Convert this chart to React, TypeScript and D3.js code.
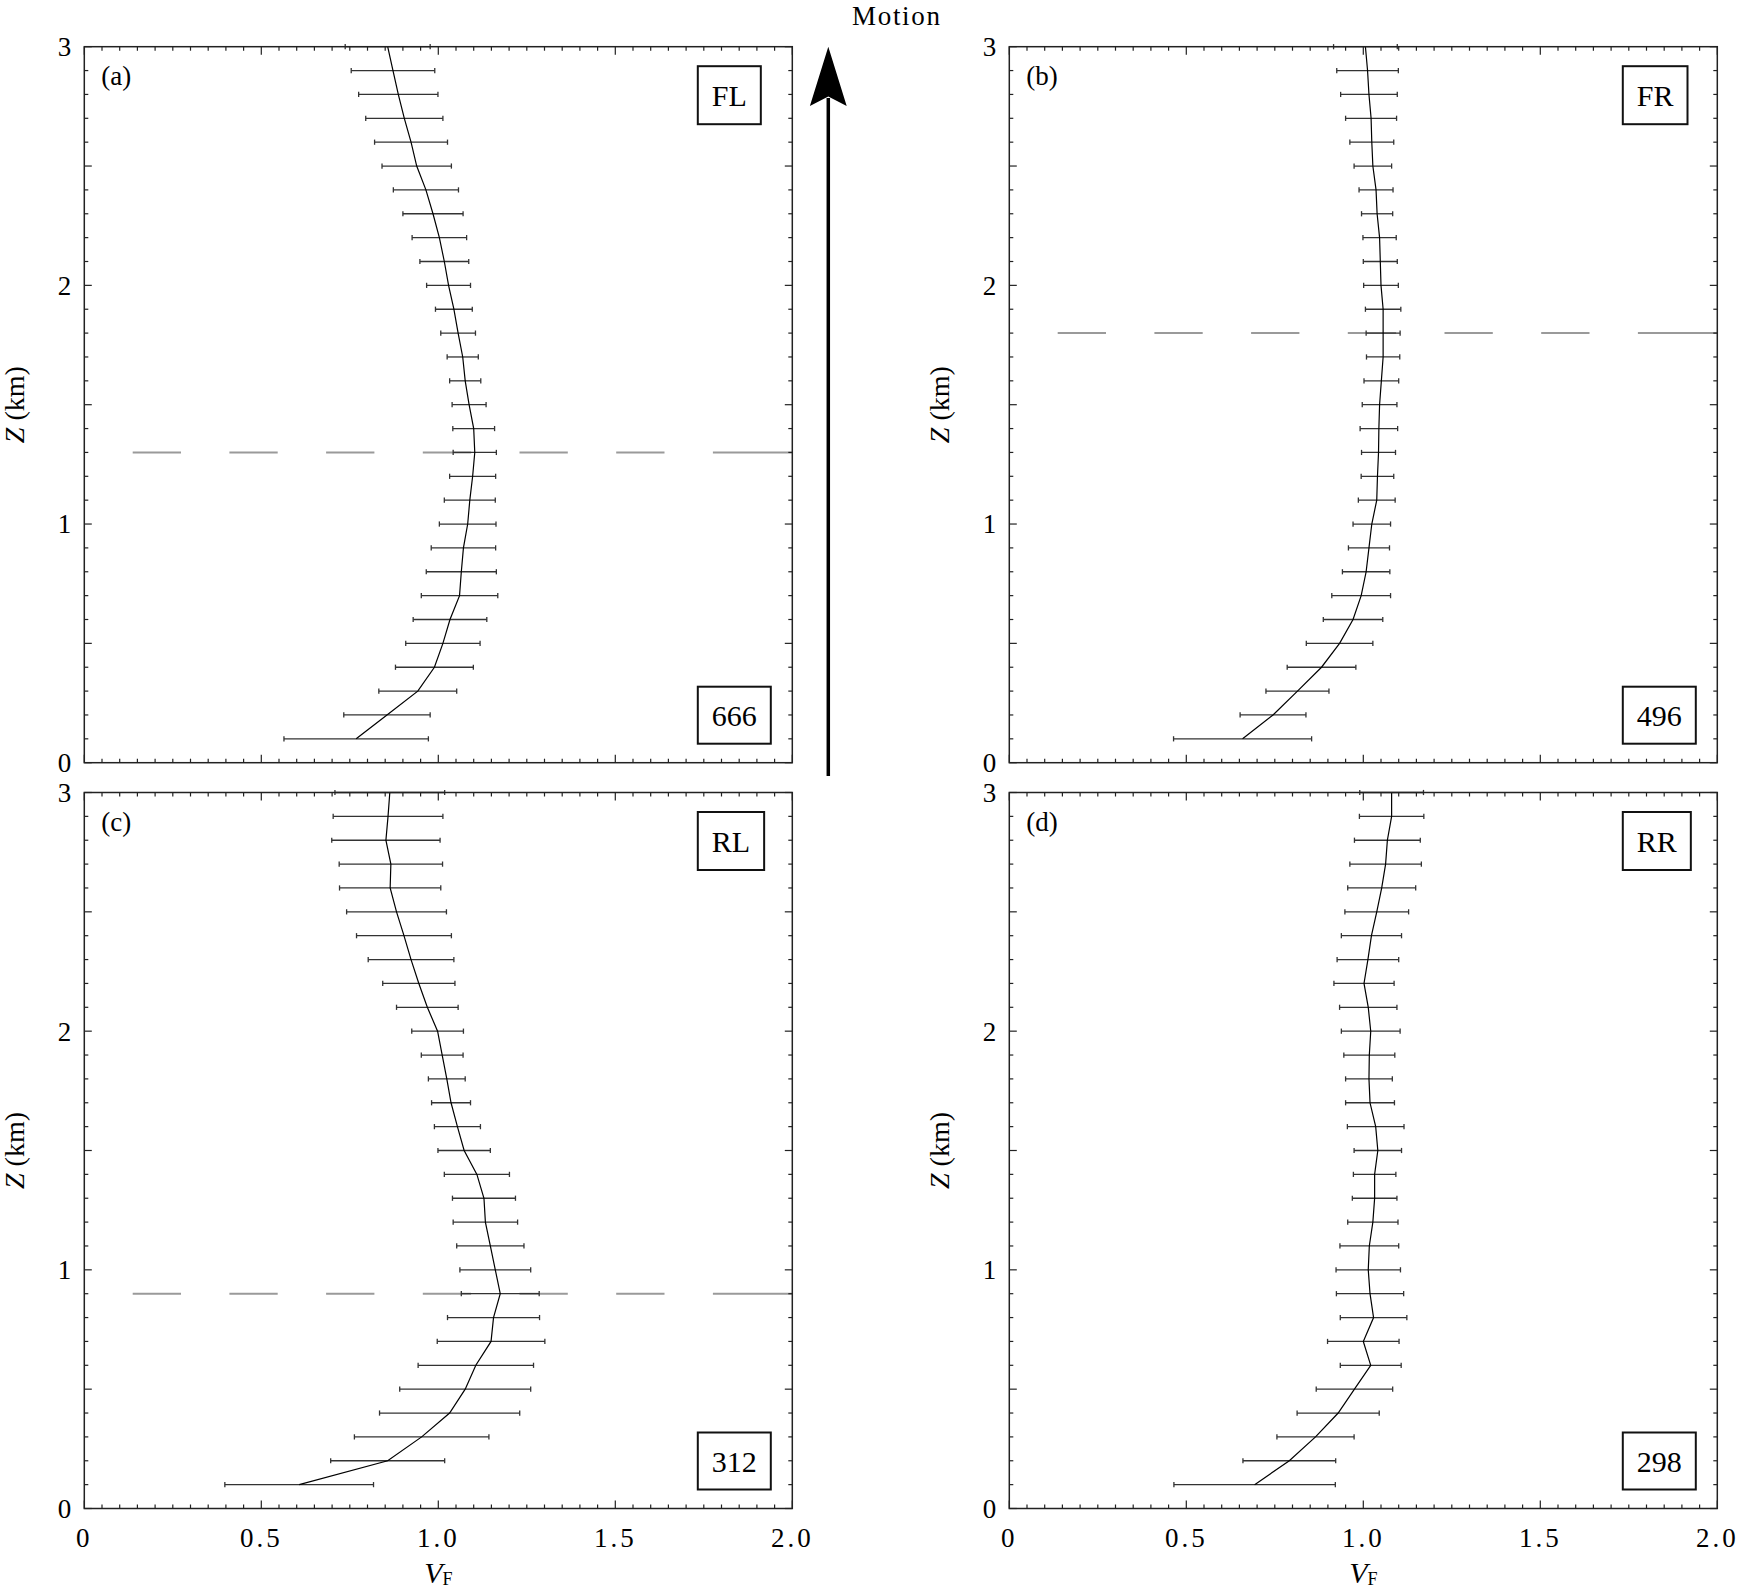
import React, { useEffect, useRef } from 'react';
import * as d3 from 'd3';

// heights of the sampled levels (km)
const zLevels = [0.1, 0.2, 0.3, 0.4, 0.5, 0.6, 0.7, 0.8, 0.9, 1.0,
    1.1, 1.2, 1.3, 1.4, 1.5, 1.6, 1.7, 1.8, 1.9, 2.0,
    2.1, 2.2, 2.3, 2.4, 2.5, 2.6, 2.7, 2.8, 2.9, 3.0];

// mean V_F and its standard deviation for each quadrant
const meanFL = [0.768, 0.855, 0.942, 0.989, 1.013, 1.033, 1.060, 1.065, 1.071, 1.083,
    1.089, 1.097, 1.103, 1.100, 1.087, 1.076, 1.069, 1.056, 1.044, 1.029,
    1.017, 1.003, 0.985, 0.965, 0.939, 0.923, 0.904, 0.887, 0.872, 0.857];
const sdFL = [0.204, 0.122, 0.110, 0.110, 0.105, 0.104, 0.108, 0.099, 0.091, 0.080,
    0.072, 0.065, 0.061, 0.059, 0.048, 0.044, 0.044, 0.049, 0.052, 0.062,
    0.069, 0.077, 0.085, 0.092, 0.098, 0.103, 0.109, 0.112, 0.118, 0.120];

const meanFR = [0.659, 0.745, 0.814, 0.882, 0.933, 0.971, 0.994, 1.008, 1.016, 1.024,
    1.038, 1.040, 1.043, 1.044, 1.046, 1.051, 1.056, 1.056, 1.056, 1.050,
    1.048, 1.046, 1.039, 1.036, 1.027, 1.024, 1.022, 1.016, 1.012, 1.006];
const sdFR = [0.195, 0.093, 0.089, 0.097, 0.094, 0.084, 0.083, 0.067, 0.058, 0.053,
    0.052, 0.046, 0.048, 0.053, 0.049, 0.049, 0.047, 0.048, 0.050, 0.049,
    0.048, 0.047, 0.044, 0.048, 0.053, 0.062, 0.072, 0.080, 0.087, 0.090];

const meanRL = [0.607, 0.857, 0.953, 1.032, 1.076, 1.106, 1.149, 1.156, 1.175, 1.161,
    1.147, 1.133, 1.129, 1.109, 1.073, 1.054, 1.036, 1.024, 1.011, 0.998,
    0.969, 0.945, 0.923, 0.903, 0.882, 0.864, 0.866, 0.852, 0.858, 0.863];
const sdRL = [0.210, 0.161, 0.190, 0.198, 0.185, 0.163, 0.152, 0.130, 0.110, 0.100,
    0.095, 0.091, 0.089, 0.092, 0.074, 0.065, 0.055, 0.052, 0.059, 0.073,
    0.087, 0.102, 0.121, 0.134, 0.141, 0.143, 0.146, 0.153, 0.155, 0.155];

const meanRR = [0.693, 0.791, 0.865, 0.929, 0.975, 1.021, 1.000, 1.029, 1.019, 1.014,
    1.017, 1.027, 1.032, 1.032, 1.041, 1.035, 1.019, 1.016, 1.017, 1.021,
    1.014, 1.002, 1.013, 1.023, 1.038, 1.052, 1.063, 1.068, 1.080, 1.080];
const sdRR = [0.228, 0.131, 0.109, 0.116, 0.108, 0.086, 0.101, 0.094, 0.095, 0.091,
    0.083, 0.071, 0.063, 0.060, 0.067, 0.080, 0.069, 0.066, 0.072, 0.083,
    0.081, 0.085, 0.087, 0.085, 0.090, 0.096, 0.101, 0.093, 0.091, 0.090];

const panelTags = ['(a)', '(b)', '(c)', '(d)'];
const quadrantNames = ['FL', 'FR', 'RL', 'RR'];
const sampleCounts = ['666', '496', '312', '298'];
const dashedHeights = [1.3, 1.8, 0.9, null];
const panelMeans = [meanFL, meanFR, meanRL, meanRR];
const panelSds = [sdFL, sdFR, sdRL, sdRR];

const xTickValues = [0, 0.5, 1.0, 1.5, 2.0];
const xTickLabels = ['0', '0.5', '1.0', '1.5', '2.0'];
const yTickValues = [0, 1, 2, 3];

const FONT = '"Liberation Serif", "Times New Roman", serif';

const App = () => {
    const svgRef = useRef(null);

    useEffect(() => {
        const svg = d3.select(svgRef.current);
        svg.selectAll('*').remove();

        const lefts = [84.3, 1009.3];
        const tops = [46.7, 792.5];
        const pw = 708;
        const ph = 716;

        //gap first, six dash/gap pairs, then the last dash runs into the frame
        const dashPattern = [0, 48.4];
        for (let k = 0; k < 6; k++) dashPattern.push(48.3, 48.4);
        dashPattern.push(1000);

        panelTags.forEach((tag, p) => {
            const left = lefts[p % 2];
            const top = tops[Math.floor(p / 2)];
            const bottomRow = p >= 2;

            const x = d3.scaleLinear().domain([0, 2]).range([0, pw]);
            const y = d3.scaleLinear().domain([0, 3]).range([ph, 0]);

            const g = svg.append('g').attr('transform', `translate(${left},${top})`);

            const rows = zLevels.map((z, i) => ({ z, m: panelMeans[p][i], s: panelSds[p][i] }));

            //dashed reference height
            const dz = dashedHeights[p];
            if (dz !== null) {
                g.append('line')
                    .attr('x1', 0).attr('x2', pw)
                    .attr('y1', y(dz)).attr('y2', y(dz))
                    .attr('stroke', '#9a9a9a')
                    .attr('stroke-width', 2)
                    .attr('stroke-dasharray', dashPattern.join(','));
            }

            //error bars
            const bars = g.append('g').attr('stroke', '#333').attr('stroke-width', 1.3);
            rows.forEach(d => {
                const yy = y(d.z);
                const x1 = x(d.m - d.s);
                const x2 = x(d.m + d.s);
                bars.append('line').attr('x1', x1).attr('x2', x2).attr('y1', yy).attr('y2', yy);
                bars.append('line').attr('x1', x1).attr('x2', x1).attr('y1', yy - 2.6).attr('y2', yy + 2.6);
                bars.append('line').attr('x1', x2).attr('x2', x2).attr('y1', yy - 2.6).attr('y2', yy + 2.6);
            });

            //mean profile
            const line = d3.line()
                .x(d => x(d.m))
                .y(d => y(d.z));
            g.append('path')
                .datum(rows)
                .attr('fill', 'none')
                .attr('stroke', '#000')
                .attr('stroke-width', 1.2)
                .attr('d', line);

            //frame
            g.append('rect')
                .attr('x', 0).attr('y', 0)
                .attr('width', pw).attr('height', ph)
                .attr('fill', 'none')
                .attr('stroke', '#222')
                .attr('stroke-width', 1.5);

            //inward ticks on all four sides
            const ticks = g.append('g').attr('stroke', '#222').attr('stroke-width', 1.2);
            d3.range(0, 40.5, 1).forEach(k => {
                const xv = k * 0.05;
                const len = k % 10 === 0 ? 8 : 4;
                ticks.append('line').attr('x1', x(xv)).attr('x2', x(xv)).attr('y1', ph).attr('y2', ph - len);
                ticks.append('line').attr('x1', x(xv)).attr('x2', x(xv)).attr('y1', 0).attr('y2', len);
            });
            d3.range(0, 30.5, 1).forEach(k => {
                const yv = k * 0.1;
                const len = k % 5 === 0 ? 7.5 : 4;
                ticks.append('line').attr('x1', 0).attr('x2', len).attr('y1', y(yv)).attr('y2', y(yv));
                ticks.append('line').attr('x1', pw).attr('x2', pw - len).attr('y1', y(yv)).attr('y2', y(yv));
            });

            //y tick labels
            yTickValues.forEach(v => {
                g.append('text')
                    .attr('x', -13)
                    .attr('y', y(v))
                    .attr('dy', '0.35em')
                    .attr('text-anchor', 'end')
                    .attr('font-family', FONT)
                    .attr('font-size', 27)
                    .attr('fill', '#000')
                    .text(String(v));
            });

            //x tick labels only on the bottom row
            if (bottomRow) {
                xTickValues.forEach((v, i) => {
                    g.append('text')
                        .attr('x', x(v))
                        .attr('y', ph + 38)
                        .attr('text-anchor', 'middle')
                        .attr('font-family', FONT)
                        .attr('font-size', 27)
                        .attr('letter-spacing', 3)
                        .attr('fill', '#000')
                        .text(xTickLabels[i]);
                });

                const xl = g.append('text')
                    .attr('x', x(1))
                    .attr('y', ph + 74)
                    .attr('text-anchor', 'middle')
                    .attr('font-family', FONT)
                    .attr('fill', '#000');
                xl.append('tspan').attr('font-size', 30).attr('font-style', 'italic').text('V');
                xl.append('tspan').attr('font-size', 18).attr('dy', 2).text('F');
            }

            //y axis label
            const yl = g.append('text')
                .attr('transform', `translate(-60,${ph / 2}) rotate(-90)`)
                .attr('text-anchor', 'middle')
                .attr('font-family', FONT)
                .attr('font-size', 28)
                .attr('fill', '#000');
            yl.append('tspan').attr('font-style', 'italic').text('Z');
            yl.append('tspan').text(' (km)');

            //panel tag
            g.append('text')
                .attr('x', 17)
                .attr('y', 38)
                .attr('font-family', FONT)
                .attr('font-size', 27)
                .attr('fill', '#000')
                .text(tag);

            //boxed labels
            const boxed = (label, boxTop, boxH) => {
                const t = g.append('text')
                    .attr('y', boxTop + boxH / 2)
                    .attr('dy', '0.35em')
                    .attr('text-anchor', 'middle')
                    .attr('font-family', FONT)
                    .attr('font-size', 30)
                    .attr('fill', '#000')
                    .text(label);
                const tw = t.node().getComputedTextLength();
                const bw = tw + 28;
                const bx = 613.5;
                t.attr('x', bx + bw / 2);
                g.insert('rect', 'text')
                    .attr('x', bx).attr('y', boxTop)
                    .attr('width', bw).attr('height', boxH)
                    .attr('fill', '#fff')
                    .attr('stroke', '#111')
                    .attr('stroke-width', 2);
            };
            boxed(quadrantNames[p], 19.5, 58);
            boxed(sampleCounts[p], ph - 19 - 57, 57);
        });

        //motion arrow between the left and right columns
        const ax = 828.3;
        svg.append('line')
            .attr('x1', ax).attr('x2', ax)
            .attr('y1', 776).attr('y2', 98)
            .attr('stroke', '#000')
            .attr('stroke-width', 3.5);
        svg.append('path')
            .attr('d', `M${ax},46.7 L${ax + 18.4},106 L${ax},96.5 L${ax - 18.4},106 Z`)
            .attr('fill', '#000');
        svg.append('text')
            .attr('x', 852)
            .attr('y', 25)
            .attr('font-family', FONT)
            .attr('font-size', 27)
            .attr('letter-spacing', 1.7)
            .attr('fill', '#000')
            .text('Motion');
    }, []);

    return (
        <svg
            ref={svgRef}
            width={1739}
            height={1587}
            style={{ position: 'absolute', left: 0, top: 0, background: '#fff', display: 'block' }}
        ></svg>
    );
};

export default App;
